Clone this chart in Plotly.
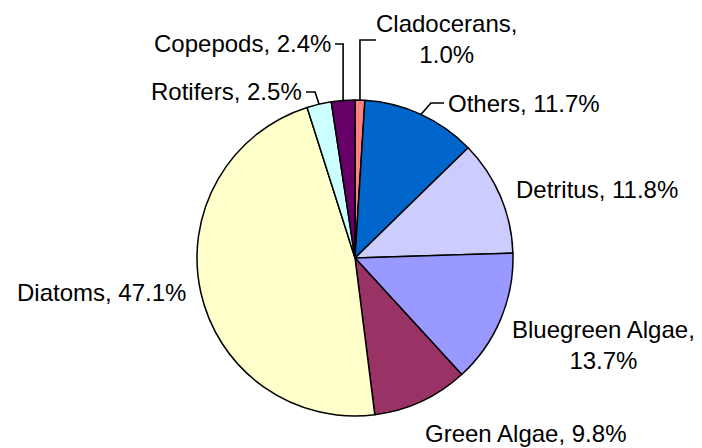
import math
import plotly.graph_objects as go

categories = ["Cladocerans", "Others", "Detritus", "Bluegreen Algae",
              "Green Algae", "Diatoms", "Rotifers", "Copepods"]
percent = [1.0, 11.7, 11.8, 13.7, 9.8, 47.1, 2.5, 2.4]
colors = ["#FF8080", "#0066CC", "#CCCCFF", "#9999FF",
          "#993366", "#FFFFCC", "#CCFFFF", "#660066"]
label_text = ["Cladocerans,<br>1.0%", "Others, 11.7%", "Detritus, 11.8%",
              "Bluegreen Algae,<br>13.7%", "Green Algae, 9.8%",
              "Diatoms, 47.1%", "Rotifers, 2.5%", "Copepods, 2.4%"]

W, H = 702, 448
CX, CY, R = 355, 258, 158

# label placement (pixels from top-left) and anchor
label_pos = [(447, 39, "center"), (446, 103, "left"), (514, 190, "left"),
             (603, 345, "center"), (525, 433, "center"), (188, 292, "right"),
             (304, 92, "right"), (333, 44, "right")]

fig = go.Figure(go.Pie(
    labels=categories, values=percent, sort=False, direction="clockwise",
    rotation=0, textinfo="none", hoverinfo="label+percent",
    marker=dict(colors=colors, line=dict(color="black", width=1.5)),
    domain=dict(x=[(CX - R) / W, (CX + R) / W],
                y=[(H - CY - R) / H, (H - CY + R) / H]),
    showlegend=False,
))

def px(x, y):
    return x / W, 1 - y / H

annotations = []
for txt, (x, y, anc) in zip(label_text, label_pos):
    ax, ay = px(x, y)
    annotations.append(dict(text=txt, x=ax, y=ay, xref="paper", yref="paper",
                            xanchor=anc, yanchor="middle", showarrow=False,
                            align="center",
                            font=dict(family="Liberation Sans, Arial", size=24,
                                      color="black")))

# leader lines for small slices, starting at slice mid-angle on the rim
total = sum(percent)
cum = 0
mids = []
for v in percent:
    mids.append((cum + v / 2) / total * 2 * math.pi)
    cum += v

def rim(i):
    a = mids[i]
    return CX + R * math.sin(a), CY - R * math.cos(a)

shapes = []
def path(points):
    p = [px(x, y) for x, y in points]
    d = "M " + " L ".join(f"{a},{b}" for a, b in p)
    shapes.append(dict(type="path", path=d, xref="paper", yref="paper",
                       line=dict(color="black", width=1.6)))

ex, ey = rim(0)
path([(ex, ey), (ex, 40), (376, 40)])
ex, ey = rim(7)
path([(ex, ey), (ex, 44), (335, 44)])
ex, ey = rim(6)
path([(ex, ey), (ex - 4, 92), (306, 92)])
ex, ey = rim(1)
path([(ex, ey), (ex + 10, 103), (444, 103)])

fig.update_layout(width=W, height=H, margin=dict(l=0, r=0, t=0, b=0),
                  paper_bgcolor="white", plot_bgcolor="white",
                  annotations=annotations, shapes=shapes)

fig.write_html("out.html", config={"displayModeBar": False},
               post_script="document.body.style.margin='0';document.body.style.padding='0';")
